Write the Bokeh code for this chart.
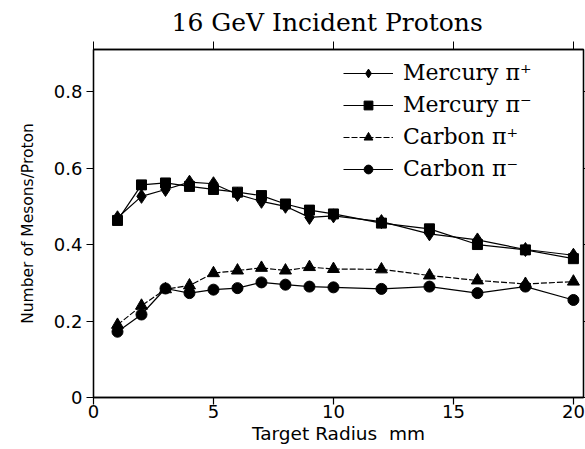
from bokeh.plotting import figure
from bokeh.models import LinearAxis, Range1d, FixedTicker, Legend, LegendItem
from bokeh.embed import file_html
from bokeh.resources import INLINE

radius = [1, 2, 3, 4, 5, 6, 7, 8, 9, 10, 12, 14, 16, 18, 20]
hg_pip = [0.470, 0.526, 0.544, 0.563, 0.559, 0.531, 0.513, 0.500, 0.471, 0.475, 0.460, 0.428, 0.412, 0.387, 0.372]
hg_pim = [0.463, 0.556, 0.561, 0.552, 0.544, 0.537, 0.528, 0.506, 0.490, 0.480, 0.456, 0.441, 0.400, 0.386, 0.363]
c_pip = [0.190, 0.240, 0.283, 0.293, 0.325, 0.332, 0.339, 0.332, 0.341, 0.336, 0.335, 0.319, 0.306, 0.297, 0.303]
c_pim = [0.172, 0.217, 0.285, 0.273, 0.282, 0.286, 0.301, 0.295, 0.290, 0.288, 0.284, 0.290, 0.273, 0.290, 0.255]

x_ticks = [0, 5, 10, 15, 20]
y_ticks = [0.0, 0.2, 0.4, 0.6, 0.8]

p = figure(width=585, height=449, output_backend="svg", toolbar_location=None,
           x_range=Range1d(0, 20.42), y_range=Range1d(0, 0.91),
           min_border_left=93, min_border_right=2, min_border_top=0, min_border_bottom=52)
p.grid.visible = False
p.outline_line_color = "black"
p.outline_line_width = 1.3
p.background_fill_color = "white"
p.border_fill_color = "white"

p.title.text = "16 GeV Incident Protons"
p.title.text_font = "DejaVu Serif"
p.title.text_font_size = "25px"
p.title.text_font_style = "normal"
p.title.align = "left"
p.title.offset = 78
p.title.standoff = 10
p.title.text_color = "black"

for ax in p.xaxis + p.yaxis:
    ax.axis_line_color = "black"
    ax.axis_line_width = 1.3
    ax.major_tick_line_color = "black"
    ax.major_tick_line_width = 1.2
    ax.major_tick_out = 7
    ax.major_tick_in = 0
    ax.minor_tick_line_color = None
    ax.major_label_text_font = "DejaVu Sans"
    ax.major_label_text_font_size = "18px"
    ax.major_label_text_color = "black"
    ax.axis_label_text_font = "DejaVu Sans"
    ax.axis_label_text_font_style = "normal"
    ax.axis_label_text_color = "black"

p.xaxis.ticker = FixedTicker(ticks=x_ticks)
p.yaxis.ticker = FixedTicker(ticks=y_ticks)
p.xaxis.axis_label = "Target Radius \u00a0mm"
p.yaxis.axis_label = "Number of Mesons/Proton"
p.xaxis.axis_label_text_font_size = "18.5px"
p.yaxis.axis_label_text_font_size = "15.5px"
p.yaxis.formatter.use_scientific = False
p.xaxis.major_label_standoff = 0
p.yaxis.major_label_standoff = 4
p.xaxis.axis_label_standoff = 2
p.yaxis.axis_label_standoff = 14

top = LinearAxis(ticker=FixedTicker(ticks=x_ticks), major_label_text_font_size="0px",
                 major_tick_out=8, major_tick_in=0, minor_tick_line_color=None,
                 major_label_standoff=0, axis_line_color="black", axis_line_width=1.3)
p.add_layout(top, "above")
right = LinearAxis(ticker=FixedTicker(ticks=y_ticks), major_label_text_font_size="0px",
                   major_tick_out=2, major_tick_in=0, minor_tick_line_color=None,
                   major_label_standoff=0, axis_line_color="black", axis_line_width=1.3)
p.add_layout(right, "right")

series = [
    ("Mercury \u03c0\u207a", hg_pip, "diamond", 14, None),
    ("Mercury \u03c0\u207b", hg_pim, "square", 10, None),
    ("Carbon \u03c0\u207a", c_pip, "triangle", 12, "6 2"),
    ("Carbon \u03c0\u207b", c_pim, "circle", 11, None),
]
items = []
for label, ys, marker, sz, dash in series:
    kw = {}
    if dash:
        kw["line_dash"] = dash
    l = p.line(radius, ys, line_color="black", line_width=1.2, **kw)
    s = p.scatter(radius, ys, marker=marker, size=sz,
                  fill_color="black", line_color="black")
    items.append(LegendItem(label=label, renderers=[l, s]))

legend = Legend(items=items, location=(250, 216))
legend.label_text_font = "DejaVu Serif"
legend.label_text_font_size = "22px"
legend.label_text_color = "black"
legend.border_line_color = None
legend.background_fill_alpha = 0
legend.glyph_width = 50
legend.glyph_height = 22
legend.label_height = 22
legend.spacing = 7
legend.label_standoff = 10
legend.margin = 0
legend.padding = 4
p.add_layout(legend, "center")

open("out.html", "w").write(file_html(p, INLINE))
